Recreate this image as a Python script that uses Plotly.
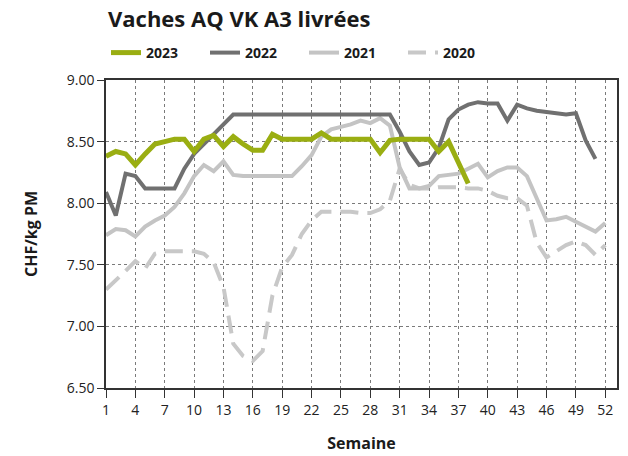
import plotly.graph_objects as go

weeks = list(range(1, 53))
tick_weeks = list(range(1, 53, 3))
y_ticks = [6.5, 7.0, 7.5, 8.0, 8.5, 9.0]
y_tick_labels = ["6.50", "7.00", "7.50", "8.00", "8.50", "9.00"]

v2023 = [8.38, 8.42, 8.40, 8.31, 8.40, 8.48, 8.50, 8.52, 8.52, 8.42,
         8.52, 8.55, 8.46, 8.54, 8.48, 8.43, 8.43, 8.56, 8.52, 8.52,
         8.52, 8.52, 8.57, 8.52, 8.52, 8.52, 8.52, 8.52, 8.41, 8.51,
         8.52, 8.52, 8.52, 8.52, 8.42, 8.50, 8.33, 8.16]

v2022 = [8.09, 7.90, 8.24, 8.22, 8.12, 8.12, 8.12, 8.12, 8.28, 8.40,
         8.48, 8.56, 8.65, 8.72, 8.72, 8.72, 8.72, 8.72, 8.72, 8.72,
         8.72, 8.72, 8.72, 8.72, 8.72, 8.72, 8.72, 8.72, 8.72, 8.72,
         8.58, 8.42, 8.31, 8.33, 8.45, 8.68, 8.76, 8.80, 8.82, 8.81,
         8.81, 8.67, 8.80, 8.77, 8.75, 8.74, 8.73, 8.72, 8.73, 8.51,
         8.36]

v2021 = [7.74, 7.79, 7.78, 7.73, 7.81, 7.86, 7.90, 7.97, 8.08, 8.22,
         8.31, 8.26, 8.34, 8.23, 8.22, 8.22, 8.22, 8.22, 8.22, 8.22,
         8.30, 8.39, 8.54, 8.60, 8.62, 8.64, 8.67, 8.65, 8.69, 8.63,
         8.29, 8.12, 8.12, 8.14, 8.22, 8.23, 8.24, 8.28, 8.32, 8.21,
         8.26, 8.29, 8.29, 8.22, 8.04, 7.86, 7.87, 7.89, 7.85, 7.81,
         7.77, 7.84]

v2020 = [7.30, 7.37, 7.45, 7.53, 7.47, 7.59, 7.61, 7.61, 7.61, 7.61,
         7.59, 7.52, 7.32, 6.86, 6.76, 6.72, 6.80, 7.25, 7.48, 7.58,
         7.75, 7.86, 7.93, 7.93, 7.93, 7.93, 7.92, 7.92, 7.95, 8.02,
         8.28, 8.15, 8.12, 8.12, 8.13, 8.13, 8.13, 8.12, 8.12, 8.10,
         8.06, 8.04, 8.04, 7.98, 7.68, 7.56, 7.61, 7.66, 7.69, 7.66,
         7.58, 7.66]

series = [
    ("2023", v2023, "#9AAE12", 5, "solid"),
    ("2022", v2022, "#707070", 4, "solid"),
    ("2021", v2021, "#C4C4C4", 4, "solid"),
    ("2020", v2020, "#C8C8C8", 4, "18px,9px"),
]

FONT = "Open Sans"
fig = go.Figure()
for name, vals, color, width, dash in reversed(series):
    fig.add_trace(go.Scatter(
        x=weeks[:len(vals)], y=vals, name=name, mode="lines",
        line=dict(color=color, width=width, dash=dash),
        legendrank={"2023": 1, "2022": 2, "2021": 3, "2020": 4}[name],
    ))

fig.update_layout(
    width=628, height=456,
    margin=dict(l=106, r=11, t=80, b=68, autoexpand=False),
    paper_bgcolor="white", plot_bgcolor="white",
    font=dict(family=FONT, size=14, color="#222222"),
    title=dict(text="<b>Vaches AQ VK A3 livrées</b>", x=108 / 628, xanchor="left",
               y=1 - 19 / 456, yanchor="middle",
               font=dict(family=FONT, size=22, color="#1a1a1a")),
    legend=dict(orientation="h", x=0, xanchor="left", y=1 + 27 / 308, yanchor="middle",
                font=dict(family=FONT, size=14, color="#1a1a1a", weight="bold"),
                entrywidth=54, entrywidthmode="pixels", traceorder="normal",
                bgcolor="rgba(0,0,0,0)"),
    showlegend=True,
)

fig.update_xaxes(
    range=[1, 53.2], tickmode="array", tickvals=tick_weeks,
    ticktext=[str(w) for w in tick_weeks],
    ticks="outside", ticklen=8, tickcolor="#333333",
    showline=True, linecolor="#333333", linewidth=1.5, mirror=True,
    showgrid=True, gridcolor="#7a7a7a", griddash="dot", gridwidth=1,
    zeroline=False,
    title=dict(text="<b>Semaine</b>", font=dict(family=FONT, size=16, color="#1a1a1a"), standoff=20),
    tickfont=dict(family=FONT, size=14, color="#222222"),
)
fig.update_yaxes(
    range=[6.5, 9.0], tickmode="array", tickvals=y_ticks, ticktext=y_tick_labels,
    ticks="outside", ticklen=7, tickcolor="#333333",
    showline=True, linecolor="#333333", linewidth=1.5, mirror=True,
    showgrid=True, gridcolor="#7a7a7a", griddash="dot", gridwidth=1,
    zeroline=False,
    title=dict(text="<b>CHF/kg PM</b>", font=dict(family=FONT, size=16, color="#1a1a1a"), standoff=25),
    tickfont=dict(family=FONT, size=14, color="#222222"),
)

fig.write_html("out.html", config={"displayModeBar": False},
               post_script="document.body.style.margin='0px';")
